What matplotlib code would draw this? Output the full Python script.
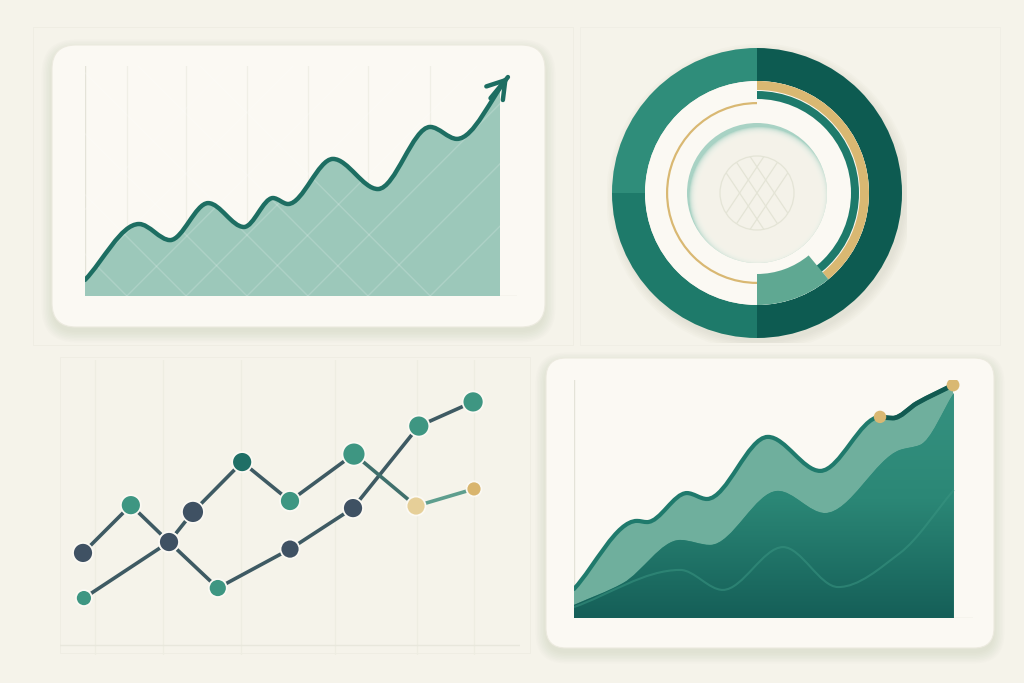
import numpy as np
import matplotlib
matplotlib.use("Agg")
import matplotlib.pyplot as plt
from matplotlib.path import Path
from matplotlib.patches import PathPatch, FancyBboxPatch, Circle, Rectangle

# ---- data (0-100 scales) ----
# top-left: rising area line with arrow
growth_x = [0, 12.5, 19.7, 28.5, 36.8, 43.5, 47.0, 57.4, 67.8, 79.9, 86.1, 97.9]
growth_y = [7.0, 31.3, 24.3, 40.4, 30.0, 42.6, 40.0, 59.6, 46.5, 73.5, 68.3, 95.2]
growth_fill_end = 96.1
growth_grid = [9.7, 23.4, 37.5, 51.6, 65.5, 79.9]

# top-right: donut (percent shares)
ring_shares = [50, 25, 25]
gold_progress = [39, 61]
teal_progress = [50, 50]
highlight = [39, 11, 50]
thin_gold = [50, 50]

# bottom-left: two marker lines
s1_x = [5.0, 15.4, 23.7, 34.3, 50.0, 63.7, 78.0, 89.8]
s1_y = [34.6, 50.8, 38.3, 22.7, 35.9, 49.8, 77.6, 85.8]
s1_kind = ["navy", "teal", "navy", "teal", "navy", "navy", "teal", "teal"]
s1_size = [20, 20, 20, 18, 19, 20, 21, 21]
s2_x = [5.2, 23.7, 28.9, 39.6, 50.0, 63.9, 77.4, 90.0]
s2_y = [19.3, 38.3, 48.5, 65.4, 52.2, 68.1, 50.5, 56.3]
s2_kind = ["teal", "navy", "navy", "dark", "teal", "teal", "pale", "gold"]
s2_size = [16, 20, 22, 20, 20, 23, 19, 15]
dots_grid = [7.6, 22.4, 39.3, 59.8, 77.6, 90.0]

# bottom-right: layered area
top_x = [0, 15.8, 18.3, 28.3, 33.3, 48.6, 61.7, 76.7, 79.9, 86.0, 95.0]
top_y = [12.2, 40.8, 40.3, 52.5, 50.0, 76.1, 61.8, 84.5, 84.0, 90.3, 97.9]
mid_x = [0, 12.3, 26.6, 34.1, 51.1, 62.9, 81.7, 86.7, 95.2]
mid_y = [5.5, 14.7, 32.8, 30.7, 53.4, 44.1, 70.6, 72.7, 94.5]
low_x = [0, 26.6, 37.3, 52.4, 66.2, 81.7, 95.2]
low_y = [4.6, 20.2, 11.8, 29.8, 13.0, 27.3, 53.8]
gold_idx = [7, 10]

BG = "#F5F3EA"
CARD = "#FBF9F3"
PLATE = "#F7F5EC"
COLORS = {"navy": "#3F5163", "teal": "#3E9682", "dark": "#1F6F66",
          "pale": "#E6CF98", "gold": "#D9B56E"}


def slopes(x, y):
    # shape-preserving tangents: flat at peaks/troughs, so curves pass smoothly through the points
    h = np.diff(x)
    d = np.diff(y) / h
    m = np.zeros(len(x))
    m[0], m[-1] = d[0], d[-1]
    for i in range(1, len(x) - 1):
        if d[i - 1] * d[i] > 0:
            w1, w2 = 2 * h[i] + h[i - 1], h[i] + 2 * h[i - 1]
            m[i] = (w1 + w2) / (w1 / d[i - 1] + w2 / d[i])
    return m


def smooth_verts(xs, ys):
    x = np.asarray(xs, float)
    y = np.asarray(ys, float)
    m = slopes(x, y)
    verts = [(x[0], y[0])]
    codes = [Path.MOVETO]
    for i in range(len(x) - 1):
        h = x[i + 1] - x[i]
        verts += [(x[i] + h / 3, y[i] + m[i] * h / 3),
                  (x[i + 1] - h / 3, y[i + 1] - m[i + 1] * h / 3),
                  (x[i + 1], y[i + 1])]
        codes += [Path.CURVE4] * 3
    return verts, codes


def line_path(xs, ys):
    v, c = smooth_verts(xs, ys)
    return Path(v, c)


def area_path(xs, ys):
    v, c = smooth_verts(xs, ys)
    v = v + [(xs[-1], 0), (xs[0], 0), (xs[0], ys[0])]
    c = c + [Path.LINETO, Path.LINETO, Path.CLOSEPOLY]
    return Path(v, c)


fig = plt.figure(figsize=(10.24, 6.83), dpi=100)
fig.patch.set_facecolor(BG)

bg = fig.add_axes([0, 0, 1, 1], zorder=0)
bg.set_xlim(0, 1024)
bg.set_ylim(683, 0)
bg.axis("off")


def px_axes(x0, y0, x1, y1):
    ax = fig.add_axes([x0 / 1024, 1 - y1 / 683, (x1 - x0) / 1024, (y1 - y0) / 683], zorder=2)
    ax.set_facecolor("none")
    ax.axis("off")
    return ax


def card(x0, y0, x1, y1, r):
    for i in range(8):
        bg.add_patch(FancyBboxPatch((x0, y0 + 5), x1 - x0, y1 - y0,
                                    boxstyle=f"round,pad={i * 1.5},rounding_size={r + i * 1.5}",
                                    fc="#A9B198", ec="none", alpha=0.03))
    bg.add_patch(FancyBboxPatch((x0, y0), x1 - x0, y1 - y0,
                                boxstyle=f"round,pad=0,rounding_size={r}",
                                fc=CARD, ec="#ECEADF", lw=0.8))


# faint background panels
bg.add_patch(Rectangle((33, 27), 540, 318, fc="none", ec="#EFEDE3", lw=0.7))
bg.add_patch(Rectangle((580, 27), 420, 318, fc="none", ec="#F0EEE5", lw=0.7))
bg.add_patch(Rectangle((60, 357), 470, 296, fc="none", ec="#EFEDE3", lw=0.7))

card(52, 45, 545, 327, 24)
card(546, 358, 994, 648, 20)

# ---- top-left: growth area ----
ax1 = px_axes(85, 66, 517, 296)
ax1.set_xlim(0, 100)
ax1.set_ylim(0, 100)
for gx in growth_grid:
    ax1.axvline(gx, color="#F0EFE6", lw=0.9, zorder=0)
ax1.axvline(0, color="#E4E3D8", lw=1, zorder=0)
ax1.axhline(0, color="#E4E3D8", lw=1, zorder=0)
clip = Rectangle((0, 0), growth_fill_end, 100, transform=ax1.transData)
fill = PathPatch(area_path(growth_x, growth_y), fc="#9CC8BA", ec="none", zorder=1)
ax1.add_patch(fill)
fill.set_clip_path(clip)
for gx in growth_grid + [-20, -5]:
    for slope in (1.88, -1.88):
        ln = ax1.axline((gx, 0), slope=slope, color="white", lw=1, alpha=0.18, zorder=1.5)
        ln.set_clip_path(clip)
ax1.add_patch(PathPatch(line_path(growth_x, growth_y), fc="none", ec="#1D6E62",
                        lw=3.2, capstyle="round", joinstyle="round", zorder=2))
ax1.annotate("", xy=(growth_x[-1], growth_y[-1]), xytext=(growth_x[-2], growth_y[-2]),
             arrowprops=dict(arrowstyle="->,head_length=0.55,head_width=0.35", color="#1D6E62",
                             lw=3.2, mutation_scale=22, shrinkA=38, shrinkB=0), zorder=3)

# ---- top-right: donut ----
ax2 = px_axes(607, 43, 907, 343)
lim = 150 / 145
for i in range(6):
    ax2.add_patch(Circle((0.02, -0.03), 1 + i * 0.012, fc="#A9B198", ec="none", alpha=0.04, zorder=0))
ax2.pie(ring_shares, radius=1, startangle=90, counterclock=False,
        colors=["#0D5B51", "#1E7A6A", "#2F8D7A"], wedgeprops=dict(width=33 / 145, ec="none"))
ax2.add_patch(Circle((0, 0), 112 / 145, fc=CARD, ec="none", zorder=1))
ax2.pie(gold_progress, radius=112 / 145, startangle=90, counterclock=False,
        colors=["#D9B872", "none"], wedgeprops=dict(width=9 / 145, ec="none", zorder=2))
ax2.pie(teal_progress, radius=102 / 145, startangle=90, counterclock=False,
        colors=["#1E7A6B", "none"], wedgeprops=dict(width=8 / 145, ec="none", zorder=2))
ax2.pie(highlight, radius=112 / 145, startangle=90, counterclock=False,
        colors=["none", "#5FA892", "none"], wedgeprops=dict(width=31 / 145, ec="none", zorder=2))
ax2.pie(thin_gold, radius=91 / 145, startangle=90, counterclock=False,
        colors=["none", "#D9B872"], wedgeprops=dict(width=2.2 / 145, ec="none", zorder=2))
# inner plate: teal inset shade on the upper-left rim
plate = Circle((0, 0), 70 / 145, fc="#A8D2C4", ec="none", zorder=3)
ax2.add_patch(plate)
for k in range(10):
    c = Circle((2.5 / 145, -4 / 145), (70 - k * 0.9) / 145, fc=PLATE, ec="none",
               alpha=0.3, zorder=3.1)
    ax2.add_patch(c)
    c.set_clip_path(plate)
deco = Circle((0, 0), 37 / 145, fc="none", ec="#E4E4D6", lw=0.9, zorder=4)
ax2.add_patch(deco)
for off in (-0.12, 0, 0.12):
    for slope in (1.5, -1.5):
        ln = ax2.axline((off, 0), slope=slope, color="#E4E4D6", lw=0.9, zorder=4)
        ln.set_clip_path(deco)
ax2.set_xlim(-lim, lim)
ax2.set_ylim(-lim, lim)
ax2.set_aspect("equal")
ax2.axis("off")

# ---- bottom-left: marker lines ----
ax3 = px_axes(60, 360, 520, 655)
ax3.set_xlim(0, 100)
ax3.set_ylim(0, 100)
for gx in dots_grid:
    ax3.axvline(gx, color="#EEEDE2", lw=0.9, zorder=0)
ax3.axhline(3.4, color="#E8E7DC", lw=1, zorder=0)
ax3.plot(s1_x, s1_y, color="#3E5A63", lw=2.6, solid_capstyle="round", zorder=2)
s2_seg = ["#3E5A63"] * 5 + ["#3F6F6C", "#5E9E8E"]
for i, c in enumerate(s2_seg):
    ax3.plot(s2_x[i:i + 2], s2_y[i:i + 2], color=c, lw=2.6, solid_capstyle="round", zorder=2)
for xs, ys, kinds, sizes in ((s1_x, s1_y, s1_kind, s1_size), (s2_x, s2_y, s2_kind, s2_size)):
    ax3.scatter(xs, ys, s=[(d * 0.72) ** 2 for d in sizes], c=[COLORS[k] for k in kinds],
                edgecolors="#FBF9F3", linewidths=1.3, zorder=3)

# ---- bottom-right: layered area ----
ax4 = px_axes(574, 380, 973, 618)
ax4.set_xlim(0, 100)
ax4.set_ylim(0, 100)
ax4.axvline(0, color="#E4E3D8", lw=1, zorder=0)
ax4.axhline(0, color="#E4E3D8", lw=1, zorder=0)
ax4.add_patch(PathPatch(area_path(top_x, top_y), fc="#6FAF9D", ec="none", zorder=1))
mid_patch = PathPatch(area_path(mid_x, mid_y), fc="#2E8C7A", ec="none", zorder=2)
ax4.add_patch(mid_patch)
grad = np.linspace(0, 1, 200).reshape(-1, 1)
cmap = matplotlib.colors.LinearSegmentedColormap.from_list("g", ["#155F58", "#2B8776", "#379381"])
im = ax4.imshow(grad, extent=[0, mid_x[-1], 0, 100], origin="lower", cmap=cmap,
                aspect="auto", zorder=2.5)
im.set_clip_path(mid_patch)
ax4.add_patch(PathPatch(line_path(low_x, low_y), fc="none", ec="#3A9582", lw=1.5,
                        alpha=0.55, zorder=3))
ax4.add_patch(PathPatch(line_path(top_x, top_y), fc="none", ec="#1F7A6C", lw=3,
                        capstyle="round", zorder=4))
ax4.add_patch(PathPatch(line_path(top_x[7:], top_y[7:]), fc="none", ec="#125A51", lw=3.4,
                        capstyle="round", zorder=4.5))
ax4.scatter([top_x[i] for i in gold_idx], [top_y[i] for i in gold_idx], s=[80, 85],
            c="#D9B872", edgecolors="none", zorder=5)
ax4.set_xlim(0, 100)
ax4.set_ylim(0, 100)

fig.savefig("out.png", dpi=100, facecolor=BG)
